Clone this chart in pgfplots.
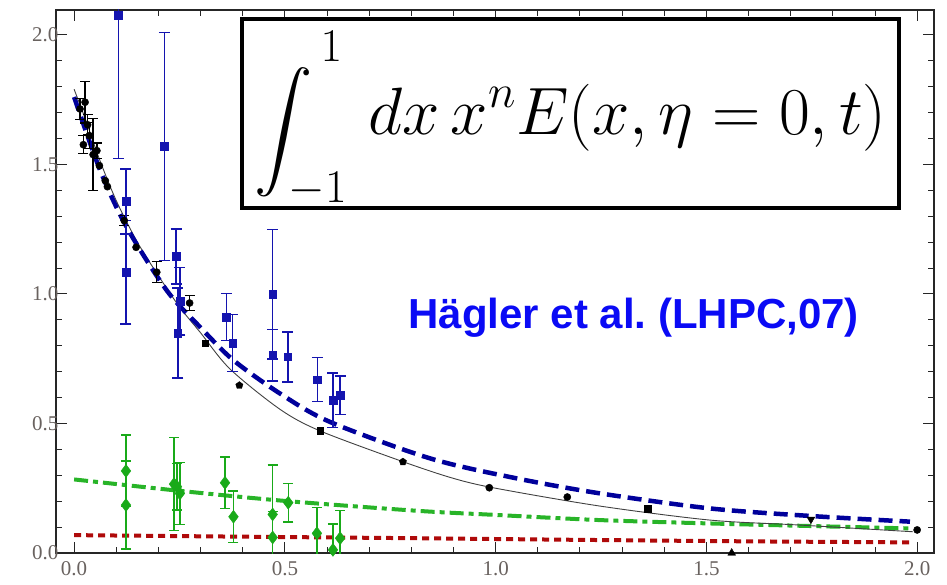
\RequirePackage{fix-cm}
\documentclass[border=0pt]{standalone}
\usepackage{amsmath}
\usepackage{graphicx}
\usepackage[no-math]{fontspec}
\usepackage{pgfplots}
\pgfplotsset{compat=1.18}
\DeclareFontShape{OMX}{cmex}{m}{n}{<-> cmex10}{}
\newfontfamily\tickfont{Liberation Serif}
\newfontfamily\labfont{Liberation Sans}
\definecolor{tickc}{RGB}{105,98,95}
\definecolor{bdat}{RGB}{20,20,175}
\definecolor{bline}{RGB}{0,0,155}
\definecolor{gdat}{RGB}{25,170,25}
\definecolor{gline}{RGB}{40,180,40}
\definecolor{rline}{RGB}{175,10,10}
\definecolor{htext}{RGB}{10,10,245}
\newcommand{\bigint}{\mathop{\lower14pt\hbox{$\vcenter{\hbox{\scalebox{0.87}{$\displaystyle\intop$}}}$}}\nolimits}
\begin{document}
\begin{tikzpicture}[x=1pt,y=1pt]
\useasboundingbox (-56pt,-31pt) rectangle (891pt,553pt);
\begin{axis}[at={(0pt,0pt)}, anchor=south west,
  width=878pt, height=543pt, scale only axis,
  xmin=-0.043, xmax=2.04, ymin=0, ymax=2.096,
  xtick={0,0.5,1,1.5,2}, ytick={0,0.5,1,1.5,2},
  xticklabels={0.0,0.5,1.0,1.5,2.0}, yticklabels={0.0,0.5,1.0,1.5,2.0},
  minor x tick num=4, minor y tick num=4,
  tick align=inside, major tick length=11pt, minor tick length=6pt,
  axis line style={line width=1.2pt, black!85},
  every tick/.style={line width=1pt, black!85},
  ticklabel style={font=\tickfont\fontsize{21}{21}\selectfont, text=tickc},
  xticklabel style={yshift=-5pt}, yticklabel style={xshift=6pt},
  clip=true]
% red dotted
\addplot[rline, line width=4pt, dash pattern=on 7pt off 5pt, smooth] coordinates {
 (0,0.069) (0.4,0.063) (0.813,0.057) (1.248,0.050) (1.6,0.045) (1.983,0.041)};
% green dash-dot
\addplot[gline, line width=4pt, dash pattern=on 14pt off 5pt on 5pt off 5pt, smooth] coordinates {
 (0,0.284) (0.25,0.240) (0.497,0.2015) (0.813,0.163) (1.0,0.147) (1.248,0.127) (1.509,0.114) (1.75,0.104) (1.983,0.095)};
% black thin line
\addplot[black!75, line width=0.9pt, smooth] coordinates {
 (0,1.79) (0.03,1.66) (0.06,1.52) (0.1,1.36) (0.15,1.2) (0.2,1.07) (0.25,0.95) (0.3,0.85) (0.37,0.71) (0.489,0.554) (0.584,0.471) (0.781,0.352) (0.9,0.288) (1.0,0.25) (1.248,0.181) (1.509,0.127) (1.72,0.108) (1.99,0.082)};
% blue dashed
\addplot[bline, line width=4.5pt, dash pattern=on 14pt off 7pt, smooth] coordinates {
 (0,1.76) (0.062,1.476) (0.125,1.257) (0.22,1.013) (0.3,0.87) (0.378,0.744) (0.489,0.615) (0.607,0.506) (0.845,0.365) (1.05,0.288) (1.248,0.23) (1.509,0.172) (1.746,0.143) (1.983,0.121)};
% black points with errors
\addplot[only marks, black, mark=*, mark size=3.6pt,
  error bars/.cd, y dir=both, y explicit,
  error bar style={line width=1.3pt, black}, error mark options={rotate=90, line width=1.3pt, mark size=5pt, black}]
 coordinates {
 (0.014,1.714) +- (0,0.04)
 (0.026,1.74) +- (0,0.08)
 (0.022,1.576) +- (0,0.035)
 (0.032,1.653) +- (0,0.04)
 (0.036,1.611) +- (0,0.05)
 (0.045,1.538) +- (0,0.14)
 (0.054,1.553) +- (0,0.03)
 (0.119,1.283) +- (0,0.02)
 (0.196,1.084) +- (0,0.04)
 (0.274,0.965) +- (0,0.03)};
\addplot[only marks, black, mark=*, mark size=3.6pt] coordinates {
 (0.06,1.495) (0.074,1.437) (0.079,1.414) (0.147,1.18) (0.985,0.252) (1.17,0.216) (2.0,0.089)};
\addplot[only marks, black, mark=square*, mark size=3.4pt] coordinates {
 (0.311,0.81) (0.584,0.471) (1.36,0.172)};
\addplot[only marks, black, mark=pentagon*, mark size=3.8pt] coordinates {
 (0.392,0.647) (0.78,0.352)};
\addplot[only marks, black, mark=triangle*, mark size=4.5pt, mark options={rotate=180}] coordinates {
 (1.748,0.13)};
\addplot[only marks, black, mark=triangle*, mark size=4.5pt] coordinates {
 (1.56,0.0)};
% green diamonds
\addplot[only marks, gdat, mark=diamond*, mark size=6.5pt,
  error bars/.cd, y dir=both, y explicit,
  error bar style={line width=1.4pt, gdat}, error mark options={rotate=90, line width=1.4pt, mark size=5pt, gdat}]
 coordinates {
 (0.123,0.317) +- (0,0.138)
 (0.123,0.185) +- (0,0.17)
 (0.237,0.266) +- (0,0.18)
 (0.244,0.256) +- (0,0.09)
 (0.251,0.23) +- (0,0.12)
 (0.358,0.271) +- (0,0.1)
 (0.378,0.14) +- (0,0.10)
 (0.471,0.149) +- (0,0.19)
 (0.471,0.06) +- (0,0.1)
 (0.508,0.194) +- (0,0.075)
 (0.576,0.076) +- (0,0.1)
 (0.614,0.012) +- (0,0.1)
 (0.631,0.057) +- (0,0.106)};
% blue squares
\addplot[only marks, bdat, mark=square*, mark size=3.8pt,
  error bars/.cd, y dir=both, y explicit,
  error bar style={line width=1.5pt, bdat}, error mark options={rotate=90, line width=1.5pt, mark size=5.5pt, bdat}]
 coordinates {
 (0.105,2.077) +- (0,0.554)
 (0.214,1.57) +- (0,0.44)
 (0.123,1.357) +- (0,0.125)
 (0.123,1.084) +- (0,0.2)
 (0.242,1.145) +- (0,0.106)
 (0.246,0.849) +- (0,0.173)
 (0.251,0.972) +- (0,0.13)
 (0.361,0.911) +- (0,0.09)
 (0.376,0.81) +- (0,0.11)
 (0.471,0.998) +- (0,0.25)
 (0.471,0.763) +- (0,0.10)
 (0.507,0.757) +- (0,0.096)
 (0.577,0.669) +- (0,0.085)
 (0.614,0.59) +- (0,0.105)
 (0.631,0.609) +- (0,0.075)};
\node[draw, line width=4pt, fill=white, minimum width=657pt, minimum height=189pt, inner sep=0pt]
  at (rel axis cs:0.586,0.8094) {};
\node[anchor=base, inner sep=0pt, font=\fontsize{67}{72}\selectfont] at (rel axis cs:0.586,0.7698)
  {$\displaystyle\bigint^{\kern8pt\raisebox{24pt}{$\scriptstyle 1$}}_{\kern-24pt\raisebox{-3pt}{$\scriptstyle -1$}}\kern10pt dx\,x^n E(x,\eta=0,t)$};
\node[anchor=base west, text=htext, font=\labfont\bfseries\fontsize{42}{42}\selectfont]
  at (rel axis cs:0.3975,0.414) {Hägler et al.\ (LHPC,07)};
\end{axis}
\end{tikzpicture}
\end{document}
